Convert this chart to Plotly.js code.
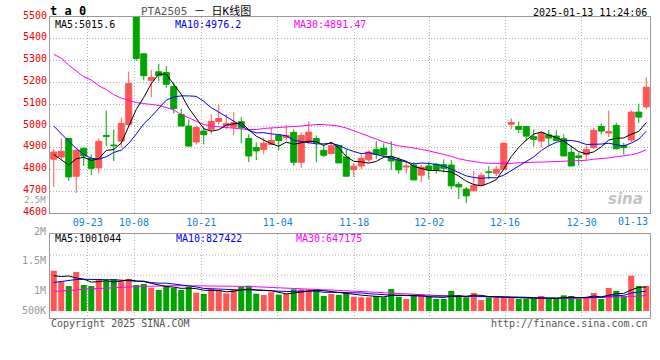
<!DOCTYPE html>
<html>
<head>
<meta charset="utf-8">
<script src="https://cdn.plot.ly/plotly-3.0.1.min.js"></script>
<style>
html,body{margin:0;padding:0;background:#fff;}
#chart{width:660px;height:360px;}
</style>
</head>
<body>
<div id="chart"></div>
<script>
// ---------------- data ----------------
const dates = ['09-12','09-13','09-18','09-19','09-20','09-23','09-24','09-25','09-26','09-27',
  '09-30','10-08','10-09','10-10','10-11','10-14','10-15','10-16','10-17','10-18',
  '10-21','10-22','10-23','10-24','10-25','10-28','10-29','10-30','10-31','11-01',
  '11-04','11-05','11-06','11-07','11-08','11-11','11-12','11-13','11-14','11-15',
  '11-18','11-19','11-20','11-21','11-22','11-25','11-26','11-27','11-28','11-29',
  '12-02','12-03','12-04','12-05','12-06','12-09','12-10','12-11','12-12','12-13',
  '12-16','12-17','12-18','12-19','12-20','12-23','12-24','12-25','12-26','12-27',
  '12-30','12-31','01-02','01-03','01-06','01-07','01-08','01-09','01-10','01-13'];

const open = [4848,4858,4943,4770,4898,4852,4808,4957,4913,4931,
  5007,5580,5331,5210,5249,5245,5181,5053,5000,4927,
  4977,4985,5021,5001,4995,5020,4943,4902,4893,4916,
  4957,4948,4971,4834,4927,4943,4889,4874,4911,4858,
  4800,4817,4845,4893,4898,4857,4844,4812,4821,4775,
  4817,4825,4823,4821,4733,4711,4703,4729,4790,4784,
  4802,5008,4998,4998,4951,4931,4959,4954,4942,4879,
  4863,4870,4901,4998,4968,5003,4911,4936,5064,5088];
const high = [4895,4943,4945,4898,4901,4870,4943,5071,4985,5039,
  5250,5620,5335,5258,5286,5275,5200,5080,5030,5003,
  4995,5053,5099,5054,5063,5041,4962,4925,4948,4994,
  4962,5007,4985,4971,5022,4957,4916,4925,4913,4893,
  4830,4870,4889,4931,4921,4931,4857,4840,4834,4821,
  4834,4830,4848,4844,4742,4720,4794,4788,4816,4817,
  4925,5035,5021,4999,4985,4977,4981,4981,4962,4911,
  4879,4911,4992,5012,5071,5015,4924,5073,5103,5223];
const low = [4721,4848,4748,4693,4817,4776,4784,4908,4840,4902,
  5000,5300,5210,5132,5205,5175,5058,5000,4908,4916,
  4916,4962,5007,4985,4957,4921,4835,4844,4870,4913,
  4889,4934,4818,4808,4916,4835,4858,4870,4831,4770,
  4766,4802,4834,4848,4863,4799,4781,4781,4753,4743,
  4756,4782,4788,4711,4665,4647,4703,4726,4756,4771,
  4800,4985,4968,4931,4906,4901,4911,4931,4863,4817,
  4821,4843,4896,4962,4949,4893,4870,4927,5015,5079];
const close = [4881,4884,4767,4889,4863,4806,4930,4953,4910,5012,
  5195,5310,5231,5223,5231,5192,5080,5000,4908,4993,
  4960,5021,5035,5012,5016,4992,4863,4886,4921,4934,
  4934,4957,4834,4957,4972,4924,4866,4910,4831,4770,
  4816,4852,4881,4870,4867,4840,4799,4816,4753,4812,
  4801,4801,4806,4726,4721,4680,4728,4774,4787,4802,
  4921,5016,4985,4954,4939,4970,4945,4934,4863,4817,
  4856,4893,4980,4977,4974,4896,4901,5064,5041,5178];

const ma5 = [4870,4847,4821,4850,4856.8,4841.8,4851,4888.2,4892.4,4922.2,
  5000,5076,5131.6,5194.2,5238,5237.4,5191.4,5145.2,5082.2,5034.6,
  4988.2,4976.4,4983.4,5004.2,5008.8,5015.2,4983.6,4953.8,4935.6,4919.2,
  4907.6,4926.4,4916,4923.2,4930.8,4928.8,4910.6,4925.8,4900.6,4860.2,
  4838.6,4835.8,4830,4837.8,4857.2,4862,4851.4,4838.4,4815,4804,
  4796.2,4796.6,4794.6,4789.2,4771,4746.8,4732.2,4725.8,4738,4754.2,
  4802.4,4860,4902.2,4935.6,4963,4972.8,4958.6,4948.4,4930.2,4905.8,
  4883,4872.6,4881.8,4904.6,4936,4944,4945.6,4962.4,4975.2,5015.6];
const ma10 = [5000,4963,4930,4898,4870,4852,4848,4859,4879,4889.5,
  4920.9,4963.5,5009.9,5043.3,5080.1,5118.7,5133.7,5138.4,5138.2,5136.3,
  5112.8,5083.9,5064.3,5043.2,5021.7,5001.7,4980,4968.6,4969.9,4964,
  4961.4,4955,4934.9,4929.4,4925,4918.2,4918.5,4920.9,4911.9,4895.5,
  4883.7,4873.2,4877.9,4869.2,4858.7,4850.3,4843.6,4834.2,4826.4,4830.6,
  4829.1,4824,4816.5,4802.1,4787.5,4771.5,4764.4,4760.2,4763.6,4762.6,
  4774.6,4796.1,4814,4836.8,4858.6,4887.6,4909.3,4925.3,4932.9,4934.4,
  4927.9,4915.6,4915.1,4917.4,4920.9,4913.5,4909.1,4922.1,4939.9,4976.2];
const ma30 = [5329,5311,5279,5252,5226,5211,5185,5167,5144,5128,
  5117,5108,5103,5099,5095,5085,5074,5053,5037,5021,
  5007,5000,4996,4994,4991,4987,4984,4984,4989,4992,
  4994,4997,4998,5000,5004,5007,5007,5005,5000,4991,
  4980,4966,4953,4939,4927,4918,4909,4905,4900,4893,
  4886,4879,4870,4861,4850,4843,4836,4832,4829,4828,
  4828,4829,4832,4832,4834,4835,4836,4837,4838,4840,
  4841,4843,4848,4850,4854,4859,4863,4868,4877,4891.47];

// volume in thousands of lots
const volK = [1676,1219,1040,1622,1082,1040,1319,1260,1331,1248,
  1331,1082,1123,969,874,1040,957,874,1011,761,
  707,915,874,736,874,1011,1052,720,666,778,
  678,707,903,903,903,903,624,707,666,761,
  595,570,570,624,570,915,595,499,624,624,
  595,499,499,832,653,570,749,458,570,570,
  570,570,499,499,499,624,499,499,653,624,
  499,570,749,499,957,832,624,1468,1040,1040];
const volMa5K = [1468,1435,1456,1373,1328,1201,1221,1265,1206,1240,
  1298,1250,1223,1151,1076,1018,993,943,951,929,
  862,854,854,799,821,882,909,879,864,845,
  779,710,746,794,819,864,847,808,760,732,
  671,660,632,624,586,650,655,641,641,651,
  587,568,568,610,616,611,661,652,600,583,
  583,547,556,542,527,538,524,524,555,580,
  555,569,619,588,655,721,732,876,984,1001.044];
const volMa10K = [1186,1227,1269,1310,1319,1319,1319,1310,1298,1284,
  1249,1236,1244,1179,1158,1158,1122,1083,1051,1002,
  940,923,898,875,875,872,882,866,832,833,
  830,810,812,829,832,821,778,777,777,775,
  767,753,720,692,659,660,657,636,632,619,
  619,612,604,625,634,599,614,610,605,599,
  597,604,604,571,555,561,536,540,548,554,
  547,547,572,572,617,638,651,748,786,827.422];
const volMa30K = [811,840,861,882,903,919,940,957,969,986,
  1003,1015,1023,1036,1044,1052,1052,1052,1052,1052,
  1052,1052,1052,1052,1052,1040,1023,1007,990,973,
  957,940,928,915,903,890,882,874,857,840,
  824,807,786,765,745,724,707,695,682,666,
  653,645,632,624,616,607,599,591,582,574,
  566,562,557,553,545,537,528,520,516,520,
  528,537,541,553,566,578,591,603,616,647.175];

const tickLabels = ['09-23','10-08','10-21','11-04','11-18','12-02','12-16','12-30'];
const lastLabel = '01-13';
const priceTicks = [4600,4700,4800,4900,5000,5100,5200,5300,5400,5500];
const volAxisLabels = ['2.5M','2M','1.5M','1M','500K'];
const headerCode = 'PTA2505';
const headerTime = '2025-01-13 11:24:06';

// ---------------- layout helpers ----------------
const W = 660, H = 360, ML = 50, MR = 10, MT = 17, MB = 42;
const PW = W - ML - MR, PH = H - MT - MB;
const px = p => (p - ML) / PW;          // pixel x -> paper
const py = p => (H - MB - p) / PH;      // pixel y -> paper
const idx = dates.map((d, i) => i);
// grid/tick positions (in candle-index units) as drawn by the source
const tickPos = [4.53, 10.7, 19.67, 29.86, 40.07, 50.07, 60.17, 70.39];
const volLabelY = [200.5, 231, 260, 290.5, 310.5];
const volLabelSize = [9, 10, 10, 10, 10];

const MONO = 'DejaVu Sans Mono, Liberation Mono, monospace';
const RED = '#ff5555', GREEN = '#00a400';
const GRID = '#b4b4b4', BORDER = '#9a9a9a';

const traces = [
  {
    type: 'candlestick', x: idx, open: open, high: high, low: low, close: close,
    xaxis: 'x', yaxis: 'y', text: dates, hoverinfo: 'skip',
    increasing: {line: {color: RED, width: 1}, fillcolor: RED},
    decreasing: {line: {color: GREEN, width: 1}, fillcolor: GREEN},
    whiskerwidth: 0, showlegend: false
  },
  {type: 'scatter', mode: 'lines', x: idx, y: ma30, xaxis: 'x', yaxis: 'y', line: {color: '#ff00ff', width: 1}, hoverinfo: 'skip'},
  {type: 'scatter', mode: 'lines', x: idx, y: ma10, xaxis: 'x', yaxis: 'y', line: {color: '#0000ff', width: 1}, hoverinfo: 'skip'},
  {type: 'scatter', mode: 'lines', x: idx, y: ma5, xaxis: 'x', yaxis: 'y', line: {color: '#000000', width: 1}, hoverinfo: 'skip'},
  {
    type: 'bar', x: idx, y: volK, xaxis: 'x2', yaxis: 'y2', width: 0.8,
    marker: {color: close.map((c, i) => c >= open[i] ? RED : GREEN), line: {width: 0}},
    hoverinfo: 'skip'
  },
  {type: 'scatter', mode: 'lines', x: idx, y: volMa30K, xaxis: 'x2', yaxis: 'y2', line: {color: '#ff00ff', width: 1}, hoverinfo: 'skip'},
  {type: 'scatter', mode: 'lines', x: idx, y: volMa10K, xaxis: 'x2', yaxis: 'y2', line: {color: '#0000ff', width: 1}, hoverinfo: 'skip'},
  {type: 'scatter', mode: 'lines', x: idx, y: volMa5K, xaxis: 'x2', yaxis: 'y2', line: {color: '#000000', width: 1}, hoverinfo: 'skip'}
];

const txt = (text, x, y, opts) => Object.assign({
  text: text, x: x, y: y, xref: 'paper', yref: 'paper', showarrow: false,
  xanchor: 'left', yanchor: 'middle', font: {family: MONO, size: 10, color: '#000'}
}, opts || {});

const annotations = [
  txt('<b>t a 0</b>', px(48), py(11), {font: {family: MONO, size: 12, color: '#000'}}),
  txt('<span style="color:#555">' + headerCode + '</span> － 日K线图', px(139), py(11),
      {font: {family: MONO + ', Noto Sans CJK SC', size: 11, color: '#000'}}),
  txt(headerTime, px(649), py(12), {xanchor: 'right'}),
  txt('MA5:' + ma5[ma5.length - 1].toFixed(1), px(53), py(24)),
  txt('MA10:' + ma10[ma10.length - 1].toFixed(1), px(173), py(24), {font: {family: MONO, size: 10, color: '#0000ff'}}),
  txt('MA30:' + ma30[ma30.length - 1].toFixed(2), px(292), py(24), {font: {family: MONO, size: 10, color: '#ff00ff'}}),
  txt('MA5:' + Math.round(volMa5K[volMa5K.length - 1] * 1000), px(53), py(238)),
  txt('MA10:' + Math.round(volMa10K[volMa10K.length - 1] * 1000), px(174), py(238), {font: {family: MONO, size: 10, color: '#0000ff'}}),
  txt('MA30:' + Math.round(volMa30K[volMa30K.length - 1] * 1000), px(294), py(238), {font: {family: MONO, size: 10, color: '#ff00ff'}}),
  txt(lastLabel, px(650), py(221), {xanchor: 'right', font: {family: MONO, size: 10, color: '#1a7fd4'}}),
  txt('Copyright 2025 SINA.COM', px(49), py(323.5), {font: {family: MONO, size: 10, color: '#555'}}),
  txt('http://finance.sina.com.cn', px(650), py(323.5), {xanchor: 'right', font: {family: MONO, size: 10, color: '#555'}}),
  txt('<b><i>sina</i></b>', px(625), py(199), {xanchor: 'center', font: {family: 'DejaVu Sans', size: 15, color: 'rgba(175,175,175,0.75)'}})
];
volAxisLabels.forEach((t, i) => {
  annotations.push(txt(t, px(47), py(volLabelY[i]), {xanchor: 'right', borderpad: 0, font: {family: MONO, size: volLabelSize[i], color: '#999'}}));
});

const shapes = [255, 275].map(yp => ({
  type: 'line', xref: 'paper', yref: 'paper', x0: 0, x1: 1, y0: py(yp), y1: py(yp),
  line: {color: GRID, width: 1, dash: '1px,2px'}, layer: 'below'
}));

const xCommon = {
  range: [-0.5, 79.5], tickmode: 'array', tickvals: tickPos, ticktext: tickLabels,
  showgrid: true, gridcolor: GRID, griddash: '1px,2px', gridwidth: 1,
  showline: true, mirror: true, linecolor: BORDER, linewidth: 1,
  zeroline: false, ticks: '', fixedrange: true
};

const layout = {
  width: W, height: H,
  margin: {l: ML, r: MR, t: MT, b: MB, pad: 0},
  paper_bgcolor: '#fff', plot_bgcolor: '#fff',
  showlegend: false, hovermode: false,
  boxgap: 0.2, boxgroupgap: 0,
  bargap: 0.2,
  xaxis: Object.assign({}, xCommon, {
    anchor: 'y', rangeslider: {visible: false},
    tickfont: {family: MONO, size: 10, color: '#1a7fd4'}
  }),
  xaxis2: Object.assign({}, xCommon, {anchor: 'y2', showticklabels: false}),
  yaxis: {
    domain: [py(213.3), 1], range: [4600, 5500], anchor: 'x',
    tickmode: 'array', tickvals: priceTicks, ticktext: priceTicks.map(String),
    tickfont: {family: MONO, size: 10, color: '#f00000'},
    ticklabelshift: -2,
    showgrid: true, gridcolor: GRID, griddash: '1px,2px', gridwidth: 1,
    showline: true, mirror: true, linecolor: BORDER, linewidth: 1,
    zeroline: false, ticks: '', fixedrange: true
  },
  yaxis2: {
    domain: [0, py(234)], range: [-291, 3203], anchor: 'x2',
    showticklabels: false, showgrid: false,
    showline: true, mirror: true, linecolor: BORDER, linewidth: 1,
    zeroline: false, ticks: '', fixedrange: true
  },
  annotations: annotations,
  shapes: shapes
};

Plotly.newPlot('chart', traces, layout, {displayModeBar: false, staticPlot: true});
</script>
</body>
</html>
